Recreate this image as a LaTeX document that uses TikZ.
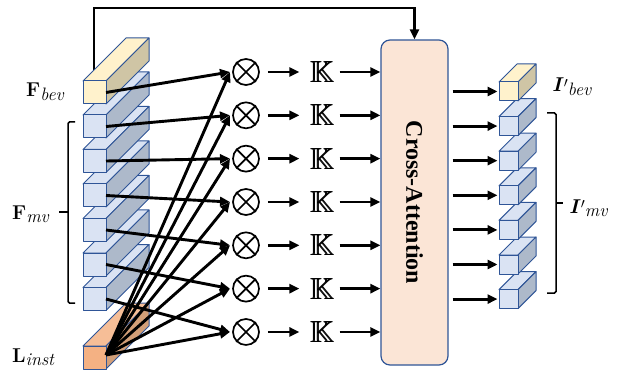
\documentclass[tikz,border=0pt]{standalone}
\usepackage{amssymb}
\usepackage{graphicx}
\usepackage{fontspec}
\newfontfamily\attfont{Liberation Serif}
\usetikzlibrary{arrows.meta}
\definecolor{edgeblue}{HTML}{2F5597}
\definecolor{bevfront}{HTML}{FFF2CC}
\definecolor{bevside}{HTML}{CFC5A5}
\definecolor{mvfront}{HTML}{DAE3F3}
\definecolor{mvside}{HTML}{ADB9CA}
\definecolor{instfront}{HTML}{F4B183}
\definecolor{insttop}{HTML}{F6BE97}
\definecolor{instside}{HTML}{D39F78}
\definecolor{attfill}{HTML}{FBE5D6}
\newcommand{\mysub}[1]{\raisebox{-3.5pt}{\fontsize{18}{18}\selectfont\textit{#1}}}
\newcommand{\myprime}{\raisebox{4pt}{\resizebox{!}{8pt}{$\prime$}}}
\newcommand{\boldK}{\resizebox{!}{21pt}{\makebox[0pt][l]{$\mathbb{K}$}\hspace{0.35pt}$\mathbb{K}$}}
% x y w h d front top side
\newcommand{\drawcube}[8]{%
  \filldraw[cubeedge, fill=#7] (#1,#2) -- ++(#5,-#5) -- ++(#3,0) -- ++(-#5,#5) -- cycle;
  \filldraw[cubeedge, fill=#8] ({#1+#3},#2) -- ++(#5,-#5) -- ++(0,#4) -- ++(-#5,#5) -- cycle;
  \filldraw[cubeedge, fill=#6] (#1,#2) rectangle ++(#3,#4);
}
\begin{document}
\begin{tikzpicture}[x=1pt,y=-1pt,
  cubeedge/.style={draw=edgeblue, line width=1pt, line join=round},
  conn/.style={line width=2.9pt, -{Triangle[length=10pt,width=9pt]}},
  otimes/.style={circle, draw, line width=1.7pt, minimum size=26pt, inner sep=0pt},
  kk/.style={inner sep=0pt},
  lab/.style={anchor=base west, inner sep=0pt, font=\fontsize{20}{22}\selectfont},
  brace/.style={line width=1.5pt, rounded corners=1.5pt}]
\useasboundingbox (0,0) rectangle (620,371);

% cross-attention box
\node[draw=edgeblue, fill=attfill, line width=1.2pt, rounded corners=9pt,
      minimum width=67pt, minimum height=325pt, inner sep=0pt] (att) at (414.5,202.5) {};
\node[rotate=-90, font=\attfont\bfseries\fontsize{24}{26}\selectfont] (atttext) at (att.center) {Cross-Attention};

% top connector (behind the cubes)
\coordinate (b0) at (94,81);
\coordinate (topy) at (250,8);
\draw[conn] (b0) |- (topy) -| (att.north);

% left cubes, bottom first
\drawcube{83}{346}{23}{23}{43}{instfront}{insttop}{instside}
\foreach \i in {6,5,...,1} {
  \pgfmathsetmacro\yt{115+34.5*(\i-1)}
  \drawcube{83}{\yt}{23}{23}{43}{mvfront}{mvfront}{mvside}
}
\drawcube{83}{81}{23}{23}{43}{bevfront}{bevfront}{bevside}

% otimes, K and arrows
\foreach \i in {1,...,7} {
  \pgfmathsetmacro\yy{72+43.33*(\i-1)}
  \node[otimes] (o\i) at (246,\yy) {};
  \draw[line width=1.7pt] (o\i.45) -- (o\i.225) (o\i.135) -- (o\i.315);
  \node[kk] (k\i) at (322,\yy) {\boldK};
  \coordinate (t\i) at (230,\yy);
  \draw[conn, shorten <=8pt, shorten >=10pt] (o\i) -- (k\i);
  \draw[conn, shorten <=5pt] (k\i) -- (k\i -| att.west);
}

% lines from the feature cubes
\coordinate (c0) at (106,92.5);
\foreach \i in {1,...,6} {
  \coordinate (c\i) at (106,{126.5+34.5*(\i-1)});
}
\draw[conn] (c0) -- (t1);
\foreach \i [evaluate=\i as \j using int(\i+1)] in {1,...,6} {
  \draw[conn] (c\i) -- (t\j);
}
% fan from L_inst
\coordinate (apex) at (106,355);
\foreach \i in {1,...,7} {
  \draw[conn] (apex) -- (t\i);
}

% right cubes, bottom first
\foreach \i in {6,5,...,1} {
  \pgfmathsetmacro\yt{82+34.6*\i}
  \drawcube{499}{\yt}{19}{19}{18}{mvfront}{mvfront}{mvside}
}
\drawcube{499}{82}{19}{19}{18}{bevfront}{bevfront}{bevside}
\foreach \i in {0,...,6} {
  \coordinate (r\i) at (499,{91.5+34.6*\i});
  \draw[conn, shorten <=4pt, shorten >=1.5pt] (r\i -| att.east) -- (r\i);
}

% braces
\draw[brace] (75,122) -- (68,122) -- (68,303) -- (75,303);
\draw[line width=1.5pt] (68,212) -- (59,212);
\draw[brace] (547,113) -- (556,113) -- (556,293) -- (547,293);
\draw[line width=1.5pt] (556,203) -- (563,203);

% labels
\node[lab] (fbev) at (26,97) {\textbf{F}\mysub{bev}};
\node[lab] (fmv) at (12,219) {\textbf{F}\mysub{mv}};
\node[lab] (linst) at (12,362) {\textbf{L}\mysub{inst}};
\node[lab] (ibev) at (552,92) {\textbf{\textit{I}}\myprime\mysub{bev}};
\node[lab] (imv) at (569,213) {\textbf{\textit{I}}\myprime\mysub{mv}};
\end{tikzpicture}
\end{document}
